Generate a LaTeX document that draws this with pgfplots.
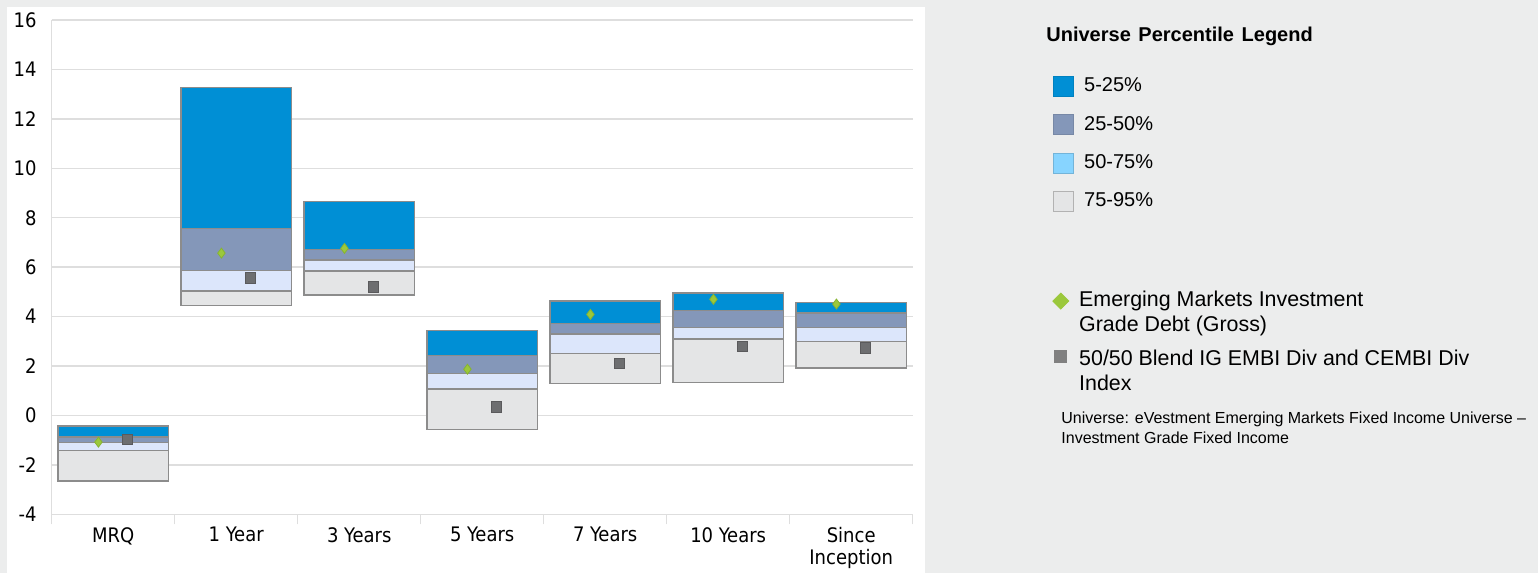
\documentclass[border=0pt]{standalone}
\usepackage{pgfplots}
\pgfplotsset{compat=1.18}
\usepackage{pgfplotstable}
\usepackage{fontspec}
\setmainfont{Liberation Sans}
\newfontfamily\tah{DejaVu Sans Condensed}
\definecolor{bgg}{RGB}{236,237,237}
\definecolor{cA}{RGB}{0,143,213}
\definecolor{cB}{RGB}{132,151,185}
\definecolor{cC}{RGB}{220,230,251}
\definecolor{cCleg}{RGB}{135,212,255}
\definecolor{cD}{RGB}{228,229,230}
\definecolor{edge}{RGB}{140,140,140}
\definecolor{gridc}{RGB}{222,222,222}
\definecolor{dia}{RGB}{155,200,60}
\definecolor{diaedge}{RGB}{135,180,50}
\definecolor{sq}{RGB}{109,110,112}
\definecolor{sqedge}{RGB}{90,90,92}

% boundaries of the universe bands: 95th, 75th, 50th, 25th, 5th percentile
\pgfplotstableread{
x p95 p75 p50 p25 p5 fund bench
0 -2.66 -1.42 -1.09 -0.87 -0.43 -1.08 -0.96
1 4.45 5.04 5.86 7.56 13.28 6.57 5.56
2 4.87 5.84 6.29 6.72 8.65 6.76 5.21
3 -0.58 1.07 1.69 2.42 3.45 1.87 0.34
4 1.29 2.50 3.29 3.71 4.64 4.09 2.10
5 1.33 3.10 3.57 4.25 4.95 4.70 2.80
6 1.92 3.00 3.55 4.14 4.56 4.51 2.73
}\data

\pgfplotsset{
  base/.style={scale only axis, width=430.5pt, height=247.1pt,
    at={(25.85pt,29.35pt)}, anchor=south west,
    xmin=-0.5, xmax=6.5, ymin=-4, ymax=16},
  legA/.style={legend image code/.code={\draw[fill=cA,draw=cA!90!black] (0pt,-5pt) rectangle (10pt,5pt);}},
  legB/.style={legend image code/.code={\draw[fill=cB,draw=cB!90!black] (0pt,-5pt) rectangle (10pt,5pt);}},
  legC/.style={legend image code/.code={\draw[fill=cCleg,draw=cCleg!85!black] (0pt,-5pt) rectangle (10pt,5pt);}},
  legD/.style={legend image code/.code={\draw[fill=cD,draw=black!30] (0pt,-5pt) rectangle (10pt,5pt);}},
  legDia/.style={legend image code/.code={\fill[dia] (0pt,5.75pt) -- (4pt,9.75pt) -- (8pt,5.75pt) -- (4pt,1.75pt) -- cycle;}},
  legSq/.style={legend image code/.code={\fill[black!50] (1pt,5pt) rectangle (7pt,11pt);}},
}

\begin{document}
\begin{tikzpicture}
\useasboundingbox (0,0) rectangle (769pt,286.5pt);
\fill[bgg] (0,0) rectangle (769pt,286.5pt);
\fill[white] (3.3pt,0) rectangle (462.5pt,283.2pt);

% main chart: floating stacked bands
\begin{axis}[base, ybar stacked, stack negative=on previous, bar width=0.9,
  axis x line*=bottom, axis y line*=left,
  axis line style={draw=gridc, line width=0.7pt},
  ytick={-4,-2,...,16}, ymajorgrids,
  grid style={gridc, line width=0.7pt},
  xtick={0,...,6},
  xticklabels={MRQ,1 Year,3 Years,5 Years,7 Years,10 Years,{Since\\Inception}},
  minor xtick={-0.5,0.5,...,6.5},
  major tick length=0pt, minor tick length=5pt, tick align=outside,
  minor tick style={gridc, line width=0.7pt},
  tick label style={font=\tah\fontsize{10}{11}\selectfont},
  xticklabel style={align=center, yshift=-3pt},
  yticklabel style={xshift=-4pt},
  /pgf/number format/assume math mode=true,
]
\addplot[draw=none, fill=none, forget plot] table[x=x, y=p95] {\data};
\addplot[fill=cD, draw=edge, line width=0.7pt, forget plot] table[x=x, y expr=\thisrow{p75}-\thisrow{p95}] {\data};
\addplot[fill=cC, draw=edge, line width=0.7pt, forget plot] table[x=x, y expr=\thisrow{p50}-\thisrow{p75}] {\data};
\addplot[fill=cB, draw=edge, line width=0.7pt, forget plot] table[x=x, y expr=\thisrow{p25}-\thisrow{p50}] {\data};
\addplot[fill=cA, draw=edge, line width=0.7pt, forget plot] table[x=x, y expr=\thisrow{p5}-\thisrow{p25}] {\data};
\end{axis}

% markers + percentile legend
\begin{axis}[base, hide axis, clip=false,
  legend cell align=left,
  legend style={at={(axis description cs:1.1629,0.8880)}, anchor=north west,
    draw=none, fill=none, inner sep=0pt, row sep=8.7pt, column sep=4pt,
    font=\fontsize{10}{12}\selectfont, nodes={inner sep=1pt}}]
\addplot[only marks, mark=diamond*, mark size=2.5pt, mark options={fill=dia, draw=diaedge, line width=0.4pt}, forget plot] table[x expr=\thisrow{x}-0.12, y=fund] {\data};
\addplot[only marks, mark=square*, mark size=2.6pt, mark options={fill=sq, draw=sqedge, line width=0.4pt}, forget plot] table[x expr=\thisrow{x}+0.115, y=bench] {\data};
\addlegendimage{legA}\addlegendentry{5-25\%}
\addlegendimage{legB}\addlegendentry{25-50\%}
\addlegendimage{legC}\addlegendentry{50-75\%}
\addlegendimage{legD}\addlegendentry{75-95\%}
\end{axis}

% marker legend
\begin{axis}[base, hide axis,
  legend cell align=left,
  legend style={at={(axis description cs:1.1618,0.4570)}, anchor=north west,
    draw=none, fill=none, inner sep=0pt, row sep=6pt, column sep=4pt,
    font=\fontsize{10.7}{12.5}\selectfont, nodes={inner sep=1pt}, cells={align=left}}]
\addlegendimage{legDia}\addlegendentry{Emerging Markets Investment\\Grade Debt (Gross)}
\addlegendimage{legSq}\addlegendentry{50/50 Blend IG EMBI Div and CEMBI Div\\Index}
\end{axis}

\node[anchor=base west, inner sep=0pt, font=\bfseries\fontsize{10}{12}\selectfont] at (523pt,265.5pt) {Universe\hspace{3.8pt}Percentile\hspace{3.8pt}Legend};
\node[anchor=north west, inner sep=0pt, align=left, font=\fontsize{8}{10}\selectfont] at (530.5pt,80.5pt) {Universe: eVestment Emerging Markets Fixed Income Universe --\\Investment Grade Fixed Income};
\end{tikzpicture}
\end{document}
